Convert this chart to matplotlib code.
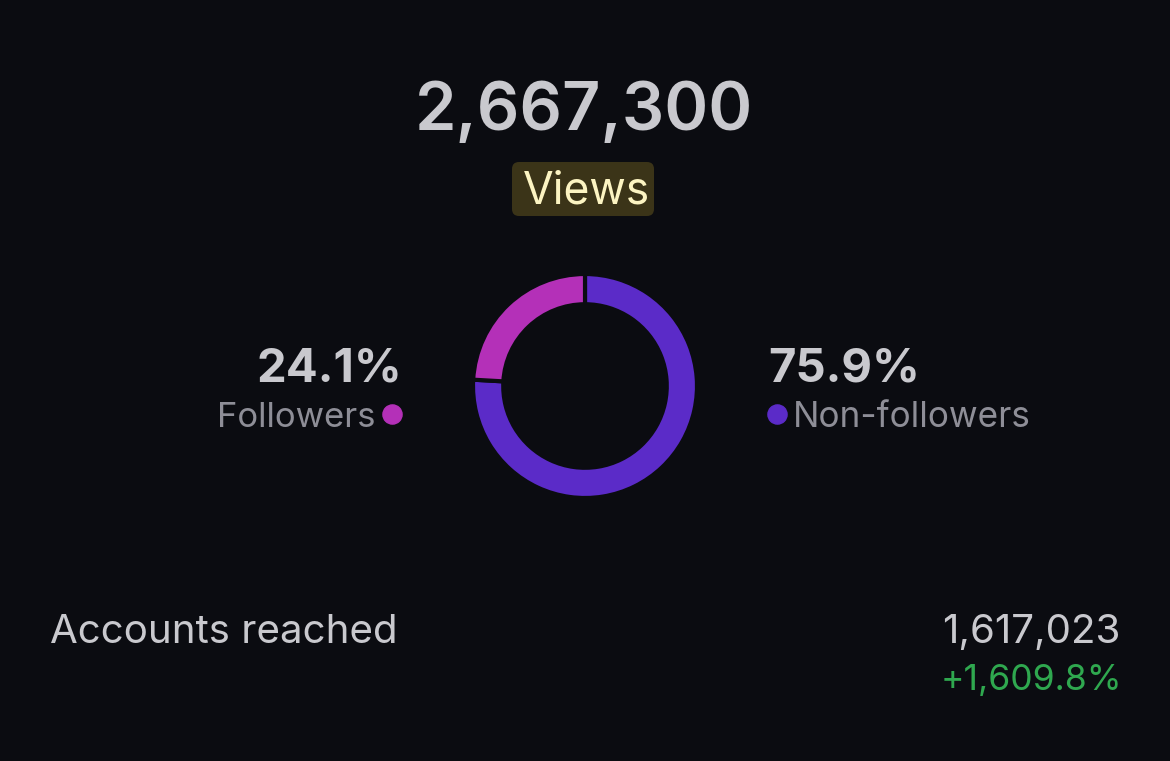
"""
Views breakdown donut (dark theme)
"""
import matplotlib.pyplot as plt
from matplotlib.patches import FancyBboxPatch

plt.rcParams["font.family"] = ["Inter", "DejaVu Sans"]

# データ
total_views = 2667300
segment_labels = ["Non-followers", "Followers"]
segment_shares = [75.9, 24.1]
accounts_reached = 1617023
reached_change = 1609.8

# 色
BG = "#0b0c11"
seg_colors = ["#5b2bc8", "#b430b8"]
TXT = "#c9c9ce"
SUB = "#8e8e97"
GREEN = "#2fa84f"

W, H = 1170, 761
fig = plt.figure(figsize=(W / 100, H / 100), dpi=100, facecolor=BG)
ax = fig.add_axes((0, 0, 1, 1))
ax.set_xlim(0, W)
ax.set_ylim(H, 0)
ax.axis("off")
ax.set_facecolor(BG)

# タイトル
ax.text(584, 130, f"{total_views:,}", color=TXT, fontsize=48, fontweight="semibold",
        ha="center", va="baseline")
box = FancyBboxPatch((512, 162), 142, 54, boxstyle="round,pad=0,rounding_size=7",
                     facecolor="#3b3418", edgecolor="none")
ax.add_patch(box)
ax.text(586, 203, "Views", color="#fcf4c2", fontsize=32, ha="center", va="baseline")

# ドーナツ
cx, cy, r = 585, 386, 112
pax = fig.add_axes(((cx - r) / W, (H - cy - r) / H, 2 * r / W, 2 * r / H))
pax.pie(segment_shares, colors=seg_colors, startangle=90, counterclock=False,
        radius=1.0, wedgeprops={"width": 0.27, "edgecolor": BG, "linewidth": 3})
pax.set_xlim(-1.0, 1.0)
pax.set_ylim(-1.0, 1.0)
pax.set_aspect("equal")
pax.axis("off")

# 左ラベル (Followers)
ax.text(402, 382, f"{segment_shares[1]}%", color=TXT, fontsize=34, fontweight="bold",
        ha="right", va="baseline")
ax.text(376, 427, segment_labels[1], color=SUB, fontsize=25, ha="right", va="baseline")
ax.scatter([392], [414], s=190, color=seg_colors[1], zorder=3)

# 右ラベル (Non-followers)
ax.text(768, 382, f"{segment_shares[0]}%", color=TXT, fontsize=34, fontweight="bold",
        ha="left", va="baseline")
ax.text(793, 427, segment_labels[0], color=SUB, fontsize=25.3, ha="left", va="baseline")
ax.scatter([777], [414], s=190, color=seg_colors[0], zorder=3)

# 下段
ax.text(50, 643, "Accounts reached", color=TXT, fontsize=29, ha="left", va="baseline")
ax.text(1120, 643, f"{accounts_reached:,}", color=TXT, fontsize=29, ha="right", va="baseline")
ax.text(1122, 690, f"+{reached_change:,}%", color=GREEN, fontsize=25.6, ha="right", va="baseline")

fig.savefig("out.png", dpi=100, facecolor=BG)
